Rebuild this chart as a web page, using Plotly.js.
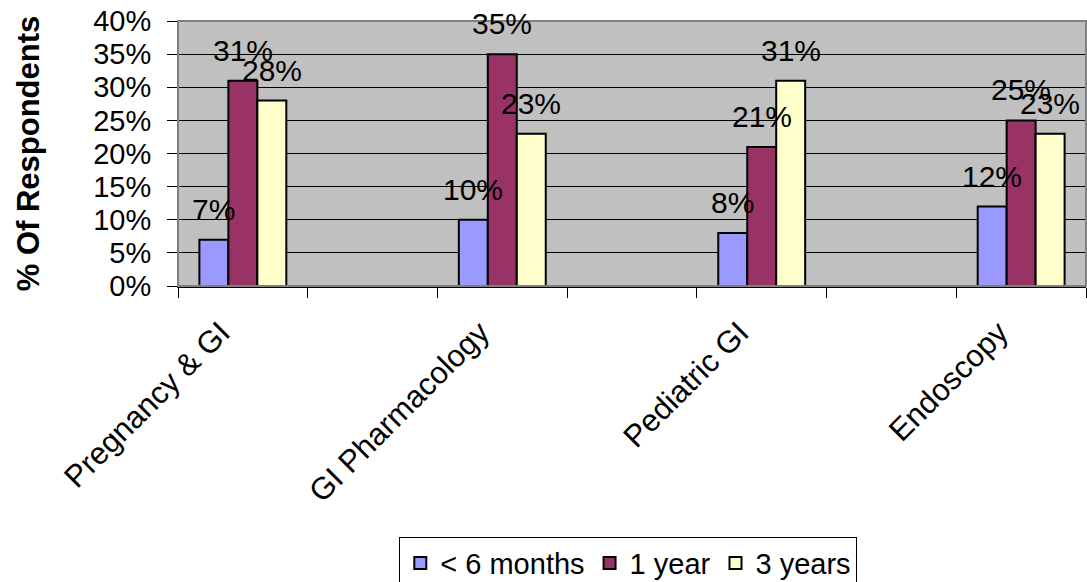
<!DOCTYPE html>
<html>
<head>
<meta charset="utf-8">
<script src="https://cdn.plot.ly/plotly-3.0.1.min.js"></script>
<style>html,body{margin:0;padding:0;background:#fff;}#chart{width:1087px;height:582px;}</style>
</head>
<body>
<div id="chart"></div>
<script>
// Categories (blank slots are empty category positions on the axis)
var categories = ["Pregnancy & GI", " ", "GI Pharmacology", "  ", "Pediatric GI", "   ", "Endoscopy"];
var seriesNames = ["< 6 months", "1 year", "3 years"];
var lt6Months = [7, null, 10, null, 8, null, 12];
var oneYear   = [31, null, 35, null, 21, null, 25];
var threeYears = [28, null, 23, null, 31, null, 23];
var yTickVals = [0, 5, 10, 15, 20, 25, 30, 35, 40];

var seriesValues = [lt6Months, oneYear, threeYears];
var colors = ["#9999FF", "#993366", "#FFFFCC"];
var FONT = "Arial, 'Liberation Sans', sans-serif";

var traces = seriesValues.map(function (vals, i) {
  return {
    type: "bar",
    name: seriesNames[i],
    x: categories,
    y: vals,
    marker: { color: colors[i], line: { color: "#000000", width: 2 } },
    hoverinfo: "skip"
  };
});

var annotations = [];
var barPx = 29;
seriesValues.forEach(function (vals, i) {
  vals.forEach(function (v, j) {
    if (v === null) return;
    annotations.push({
      x: categories[j], y: v, xref: "x", yref: "y",
      text: v + "%", showarrow: false,
      xshift: (i - 1) * barPx, yshift: 12,
      yanchor: "bottom", xanchor: "center",
      font: { family: FONT, size: 30, color: "#000" }
    });
  });
});

var layout = {
  width: 1087, height: 582,
  margin: { l: 178, r: 1, t: 21, b: 296, pad: 0 },
  paper_bgcolor: "#FFFFFF",
  plot_bgcolor: "#C0C0C0",
  font: { family: FONT, size: 30, color: "#000" },
  barmode: "group",
  bargap: 0.33,
  bargroupgap: 0,
  showlegend: true,
  legend: {
    orientation: "h",
    xref: "container", yref: "container",
    x: 0.578, xanchor: "center",
    y: 0.078, yanchor: "top",
    bordercolor: "#000000", borderwidth: 1, bgcolor: "#FFFFFF",
    font: { family: FONT, size: 29, color: "#000" },
    traceorder: "normal"
  },
  xaxis: {
    type: "category",
    categoryorder: "array", categoryarray: categories,
    tickson: "boundaries",
    ticks: "outside", ticklen: 10, tickcolor: "#000", tickwidth: 1,
    tickangle: -45,
    ticklabelshift: -22,
    ticklabelstandoff: 14,
    tickfont: { family: FONT, size: 31, color: "#000" },
    showline: true, linecolor: "#000", linewidth: 2,
    showgrid: false, zeroline: false, fixedrange: true
  },
  yaxis: {
    range: [0, 40],
    tickvals: yTickVals,
    ticktext: yTickVals.map(function (v) { return v + "%"; }),
    ticks: "outside", ticklen: 10, tickcolor: "#000", tickwidth: 1,
    ticklabelstandoff: 10,
    tickfont: { family: FONT, size: 29, color: "#000" },
    showline: true, linecolor: "#000", linewidth: 1,
    showgrid: true, gridcolor: "#000000", gridwidth: 1,
    zeroline: false, fixedrange: true,
    title: { text: "<b>% Of Respondents</b>", font: { family: FONT, size: 31, color: "#000" }, standoff: 44 }
  },
  shapes: [{
    type: "rect", xref: "paper", yref: "paper", x0: 0, x1: 1, y0: 0, y1: 1,
    line: { color: "#808080", width: 2 }, layer: "above"
  }],
  annotations: annotations
};

Plotly.newPlot("chart", traces, layout, { displayModeBar: false, staticPlot: true });
</script>
</body>
</html>
